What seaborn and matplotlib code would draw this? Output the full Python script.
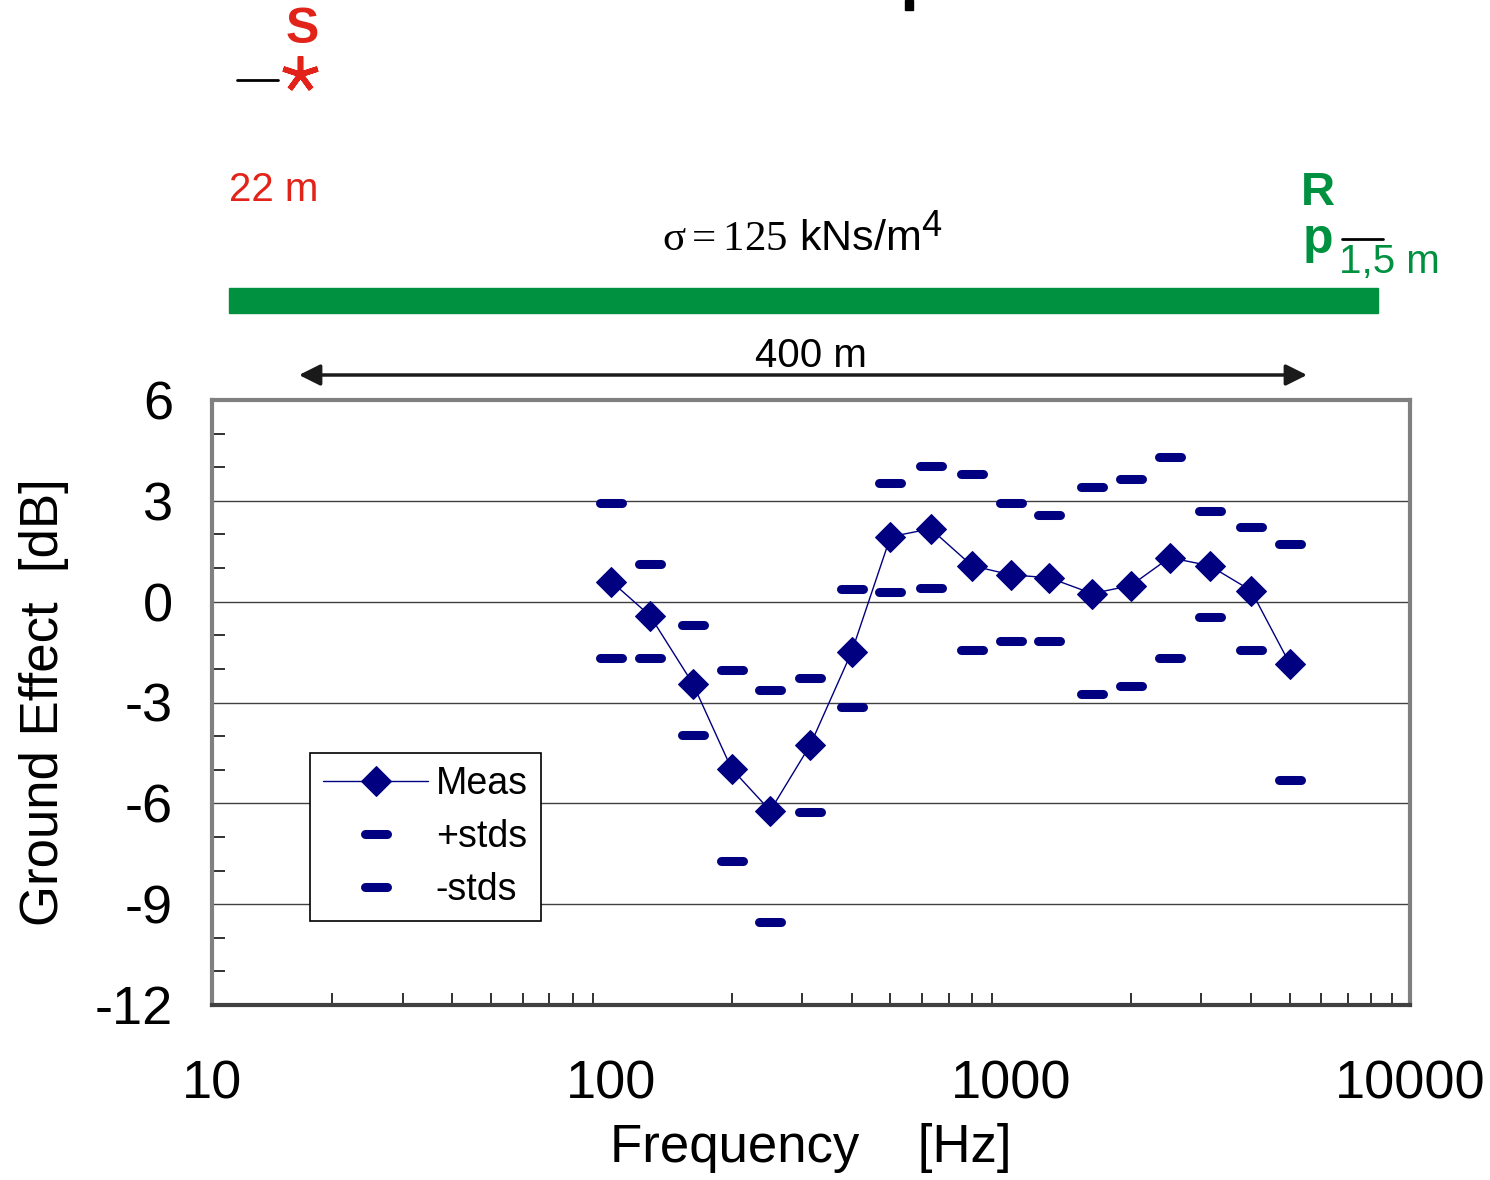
'''
Ground effect spectrum, source at 22 m, receiver at 1,5 m, 400 m over grass
'''
import numpy as np
import pandas as pd
import matplotlib
matplotlib.use('Agg')
import matplotlib.pyplot as plt
import seaborn as sns
from matplotlib.lines import Line2D
from matplotlib.markers import MarkerStyle
from matplotlib.patches import FancyArrowPatch, Rectangle
from matplotlib.ticker import FixedLocator, LogLocator, NullFormatter

# third-octave band centres [Hz]
freqs = [100, 125, 160, 200, 250, 315, 400, 500, 630, 800,
         1000, 1250, 1600, 2000, 2500, 3150, 4000, 5000]
meas = [0.60, -0.42, -2.44, -4.97, -6.22, -4.26, -1.49, 1.93, 2.17, 1.07,
        0.80, 0.71, 0.24, 0.48, 1.31, 1.07, 0.33, -1.85]
plusStd = [2.95, 1.13, -0.68, -2.02, -2.62, -2.26, 0.39, 3.54, 4.05, 3.81,
           2.95, 2.59, 3.42, 3.66, 4.29, 2.71, 2.23, 1.73]
minusStd = [-1.67, -1.67, -3.96, -7.71, -9.52, -6.25, -3.13, 0.30, 0.42, -1.43,
            -1.16, -1.16, -2.74, -2.50, -1.67, -0.45, -1.43, -5.30]

yTicks = [6, 3, 0, -3, -6, -9, -12]
yMinor = list(range(-12, 7))
xTicks = [10, 100, 1000, 10000]
xTickLabels = ['10', '100', '1000', '10000']

NAVY = '#000080'
RED = '#e2231a'
GREEN = '#009140'
W, H = 1490, 1180

sns.set_style('white')
plt.rcParams['font.family'] = ['Liberation Sans', 'DejaVu Sans']
plt.rcParams['text.color'] = 'black'
plt.rcParams['axes.labelcolor'] = 'black'
plt.rcParams['mathtext.fontset'] = 'custom'
plt.rcParams['mathtext.rm'] = 'Liberation Serif'
plt.rcParams['mathtext.it'] = 'Liberation Serif'
plt.rcParams['mathtext.bf'] = 'Liberation Serif:bold'

def px(x, y):
    # figure pixel (from top-left) -> figure fraction
    return x / W, 1 - y / H

dfGround = pd.DataFrame({'Frequency': freqs, 'Meas': meas,
                         '+stds': plusStd, '-stds': minusStd})

fig = plt.figure(figsize=(W / 100, H / 100), dpi=100)
ax = fig.add_axes([212 / W, 1 - 1005 / H, 1198 / W, 605 / H])
ax.set_xscale('log')

dash = MarkerStyle('_', capstyle='round')
sns.lineplot(data=dfGround, x='Frequency', y='Meas', ax=ax, color=NAVY, lw=1,
             marker='D', markersize=15, markeredgecolor=NAVY, markerfacecolor=NAVY,
             label='Meas', errorbar=None)
sns.lineplot(data=dfGround, x='Frequency', y='+stds', ax=ax, color=NAVY, linestyle='',
             marker=dash, markersize=16, markeredgewidth=6.5, markeredgecolor=NAVY,
             label='+stds', errorbar=None)
sns.lineplot(data=dfGround, x='Frequency', y='-stds', ax=ax, color=NAVY, linestyle='',
             marker=dash, markersize=16, markeredgewidth=6.5, markeredgecolor=NAVY,
             label='-stds', errorbar=None)

ax.set_xlim(10, 10000)
ax.set_ylim(-12, 6)
ax.xaxis.set_major_locator(FixedLocator(xTicks))
ax.set_xticklabels(xTickLabels)
ax.xaxis.set_minor_locator(LogLocator(base=10, subs=np.arange(2, 10)))
ax.xaxis.set_minor_formatter(NullFormatter())
ax.set_yticks(yTicks)
ax.set_yticklabels([str(v) for v in yTicks])
ax.set_yticks(yMinor, minor=True)

ax.yaxis.grid(True, color='#404040', lw=1)
ax.xaxis.grid(False)
ax.set_axisbelow(True)

ax.tick_params(which='major', direction='inout', length=22, width=1.3, color='#222222',
               labelsize=39, labelcolor='black')
ax.tick_params(axis='y', which='major', pad=17)
ax.tick_params(axis='x', which='major', pad=28)
ax.tick_params(axis='y', which='minor', direction='in', length=9.5, width=1.3, color='#222222', left=True)
ax.tick_params(axis='x', which='minor', direction='in', length=8.5, width=1.3, color='#222222', bottom=True)

for side in ['left', 'top', 'right']:
    ax.spines[side].set_color('#808080')
    ax.spines[side].set_linewidth(3)
ax.spines['bottom'].set_color('#404040')
ax.spines['bottom'].set_linewidth(3)

ax.set_xlabel('Frequency    [Hz]', fontsize=38)
ax.set_ylabel('Ground Effect  [dB]', fontsize=38)
ax.xaxis.set_label_coords(0.5, -0.195)
ax.yaxis.set_label_coords(-0.119, 0.5)

handles, labels = ax.get_legend_handles_labels()
leg = ax.legend(handles, labels, loc='lower left', bbox_to_anchor=px(310, 921),
                bbox_transform=fig.transFigure, borderaxespad=0, fontsize=27,
                handlelength=2.8, handletextpad=0.2, labelspacing=0.45, borderpad=0.35,
                fancybox=False, framealpha=1, edgecolor='black', numpoints=1)
leg.get_frame().set_linewidth(1.2)
for txt in leg.get_texts():
    txt.set_color('black')

# schematic of the propagation geometry above the chart
fig.text(*px(302, 30), 'S', color=RED, fontsize=36, weight='bold', ha='center', va='center')
fig.add_artist(Line2D([px(300, 74)[0]], [px(300, 74)[1]], marker=(5, 2, 0), markersize=26,
                      markeredgewidth=4, color=RED, transform=fig.transFigure))
fig.add_artist(Line2D([237 / W, 278 / W], [1 - 80 / H] * 2, color='black', lw=2,
                      transform=fig.transFigure))
fig.text(*px(274, 190), '22 m', color=RED, fontsize=29, ha='center', va='center')
fig.text(*px(920, 239), r'$\sigma = 125$ kNs/m', color='black', fontsize=31,
         ha='right', va='center')
fig.text(*px(921, 226), '4', color='black', fontsize=26, ha='left', va='center')
fig.text(*px(1318, 193), 'R', color=GREEN, fontsize=34, weight='bold', ha='center', va='center')
fig.text(*px(1318, 240), 'p', color=GREEN, fontsize=36, weight='bold', ha='center', va='center')
fig.add_artist(Line2D([1342 / W, 1383 / W], [1 - 239 / H] * 2, color='black', lw=2,
                      transform=fig.transFigure))
fig.text(*px(1389, 262), '1,5 m', color=GREEN, fontsize=29, ha='center', va='center')
fig.add_artist(Rectangle(px(229, 313), 1149 / W, 25 / H, color=GREEN,
                         transform=fig.transFigure))
fig.text(*px(811, 356), '400 m', color='black', fontsize=29, ha='center', va='center')
fig.add_artist(FancyArrowPatch(px(299, 375), px(1307, 375), arrowstyle='<|-|>',
                               mutation_scale=32, lw=2.5, color='#1a1a1a',
                               shrinkA=0, shrinkB=0, transform=fig.transFigure))
fig.add_artist(Rectangle(px(905, 10), 8 / W, 10 / H, color='black',
                         transform=fig.transFigure))

plt.savefig('out.png', dpi=100)
